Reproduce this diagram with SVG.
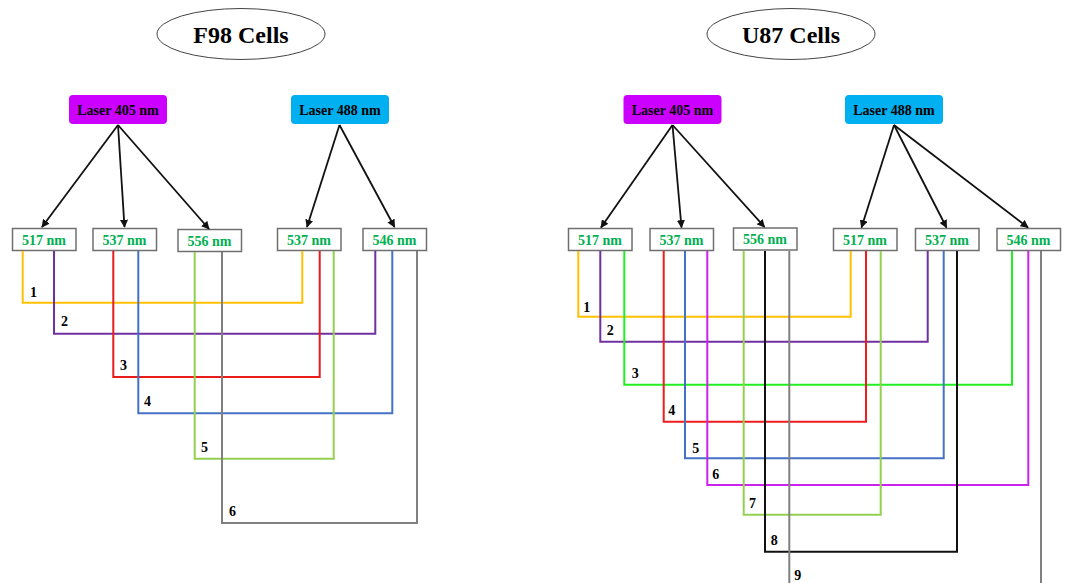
<svg xmlns="http://www.w3.org/2000/svg" width="1071" height="583" viewBox="0 0 1071 583">
<style>
text{font-family:"Liberation Serif","Times New Roman","DejaVu Serif",serif;font-weight:bold}
.title{font-size:24px;fill:#000;text-anchor:middle}
.laser{font-size:14px;fill:#000;text-anchor:middle}
.nm{font-size:14px;fill:#00B050;text-anchor:middle}
.num{font-size:14px;fill:#000}
.ell{fill:#fff;stroke:#444;stroke-width:1}
.box{fill:#fff;stroke:#6f6f6f;stroke-width:1.5}
.arr{stroke:#111;stroke-width:1.8;fill:none;marker-end:url(#ah)}
.c{fill:none;stroke-width:2}
</style>
<defs>
<marker id="ah" viewBox="0 0 10 10" refX="9" refY="5" markerWidth="4.5" markerHeight="4.5" orient="auto" markerUnits="strokeWidth">
<path d="M0,0 L10,5 L0,10 z" fill="#111"/>
</marker>
</defs>
<rect width="1071" height="583" fill="#fff"/>

<!-- LEFT PANEL -->
<g id="title-f98"><ellipse class="ell" cx="241" cy="34" rx="84" ry="25.5"/><text class="title" x="241" y="43">F98 Cells</text></g>
<g id="f98-laser405"><rect x="69" y="95" width="98" height="29" rx="4" fill="#CC00FF"/><text class="laser" x="118" y="114.5">Laser 405 nm</text></g>
<g id="f98-laser488"><rect x="291" y="95" width="98" height="29" rx="4" fill="#00B0F0"/><text class="laser" x="340" y="114.5">Laser 488 nm</text></g>
<g id="f98-517"><rect class="box" x="12.5" y="228.5" width="63.5" height="22"/><text class="nm" x="44" y="244.5">517 nm</text></g>
<g id="f98-537a"><rect class="box" x="93" y="228.5" width="63.5" height="22"/><text class="nm" x="124.5" y="244.5">537 nm</text></g>
<g id="f98-556"><rect class="box" x="178" y="229.5" width="63.5" height="22"/><text class="nm" x="209.5" y="245.5">556 nm</text></g>
<g id="f98-537b"><rect class="box" x="277.5" y="228.5" width="63.5" height="22"/><text class="nm" x="309" y="244.5">537 nm</text></g>
<g id="f98-546"><rect class="box" x="363" y="228.5" width="63.5" height="22"/><text class="nm" x="394.5" y="244.5">546 nm</text></g>

<!-- RIGHT PANEL -->
<g id="title-u87"><ellipse class="ell" cx="791" cy="34" rx="84" ry="25.5"/><text class="title" x="791" y="43">U87 Cells</text></g>
<g id="u87-laser405"><rect x="623.5" y="95" width="98" height="29" rx="4" fill="#CC00FF"/><text class="laser" x="672.5" y="114.5">Laser 405 nm</text></g>
<g id="u87-laser488"><rect x="845" y="95" width="98" height="29" rx="4" fill="#00B0F0"/><text class="laser" x="894" y="114.5">Laser 488 nm</text></g>
<g id="u87-517a"><rect class="box" x="568.5" y="228.5" width="63.5" height="22"/><text class="nm" x="600" y="244.5">517 nm</text></g>
<g id="u87-537a"><rect class="box" x="650" y="228.5" width="63.5" height="22"/><text class="nm" x="681.5" y="244.5">537 nm</text></g>
<g id="u87-556"><rect class="box" x="733.5" y="228" width="63.5" height="22"/><text class="nm" x="765" y="244">556 nm</text></g>
<g id="u87-517b"><rect class="box" x="833.5" y="228.5" width="63.5" height="22"/><text class="nm" x="865" y="244.5">517 nm</text></g>
<g id="u87-537b"><rect class="box" x="915.5" y="228.5" width="63.5" height="22"/><text class="nm" x="947" y="244.5">537 nm</text></g>
<g id="u87-546"><rect class="box" x="997" y="228.5" width="63.5" height="22"/><text class="nm" x="1028.5" y="244.5">546 nm</text></g>

<g id="connectors">
<!-- left arrows -->
<line class="arr" x1="118" y1="125" x2="42" y2="227"/>
<line class="arr" x1="118" y1="125" x2="124.5" y2="227"/>
<line class="arr" x1="118" y1="125" x2="209" y2="229"/>
<line class="arr" x1="339.5" y1="125" x2="307" y2="227"/>
<line class="arr" x1="339.5" y1="125" x2="394.5" y2="227"/>
<!-- right arrows -->
<line class="arr" x1="672.5" y1="125" x2="601" y2="227.5"/>
<line class="arr" x1="672.5" y1="125" x2="681.5" y2="227.5"/>
<line class="arr" x1="672.5" y1="125" x2="764.5" y2="227"/>
<line class="arr" x1="894" y1="125" x2="861.5" y2="227.5"/>
<line class="arr" x1="894" y1="125" x2="946.5" y2="227.5"/>
<line class="arr" x1="894" y1="125" x2="1028" y2="227.5"/>

<!-- left pairing lines -->
<polyline class="c" stroke="#FFC000" points="22.7,251 22.7,302.7 302.3,302.7 302.3,251"/>
<polyline class="c" stroke="#7030A0" points="54,251 54,333.7 375.3,333.7 375.3,251"/>
<polyline class="c" stroke="#E81C1C" points="113.3,251 113.3,377 319.7,377 319.7,251"/>
<polyline class="c" stroke="#4472C4" points="138.3,251 138.3,413.3 392.3,413.3 392.3,251"/>
<polyline class="c" stroke="#92D050" points="194.7,252 194.7,458.7 333.7,458.7 333.7,251"/>
<polyline class="c" stroke="#808080" points="222,252 222,523 417,523 417,251"/>

<!-- right pairing lines -->
<polyline class="c" stroke="#FFC000" points="578.3,251 578.3,316.7 850.7,316.7 850.7,251"/>
<polyline class="c" stroke="#7030A0" points="600.3,251 600.3,341.7 927.7,341.7 927.7,251"/>
<polyline class="c" stroke="#22EE22" points="624.3,251 624.3,384.7 1012,384.7 1012,251"/>
<polyline class="c" stroke="#EE1C1C" points="663.7,251 663.7,421.7 866,421.7 866,251"/>
<polyline class="c" stroke="#4472C4" points="685,251 685,458.3 943.7,458.3 943.7,251"/>
<polyline class="c" stroke="#CC22EE" points="707.3,251 707.3,485 1028.3,485 1028.3,251"/>
<polyline class="c" stroke="#92D050" points="743.7,251 743.7,514.7 880.7,514.7 880.7,251"/>
<polyline class="c" stroke="#111111" points="765,251 765,551.7 957,551.7 957,251"/>
<polyline class="c" stroke="#808080" points="789.3,251 789.3,590"/>
<polyline class="c" stroke="#808080" points="1041,251 1041,590"/>

<!-- labels -->
<text class="num" x="30" y="297">1</text>
<text class="num" x="61" y="326">2</text>
<text class="num" x="120" y="370">3</text>
<text class="num" x="144" y="406">4</text>
<text class="num" x="201" y="452">5</text>
<text class="num" x="229" y="516">6</text>
<text class="num" x="583.3" y="311.5">1</text>
<text class="num" x="606.7" y="335">2</text>
<text class="num" x="631.7" y="377.5">3</text>
<text class="num" x="668.3" y="415">4</text>
<text class="num" x="692.3" y="453">5</text>
<text class="num" x="712.3" y="479">6</text>
<text class="num" x="749" y="508.3">7</text>
<text class="num" x="770.7" y="545">8</text>
<text class="num" x="794.3" y="580">9</text>
</g>
</svg>
